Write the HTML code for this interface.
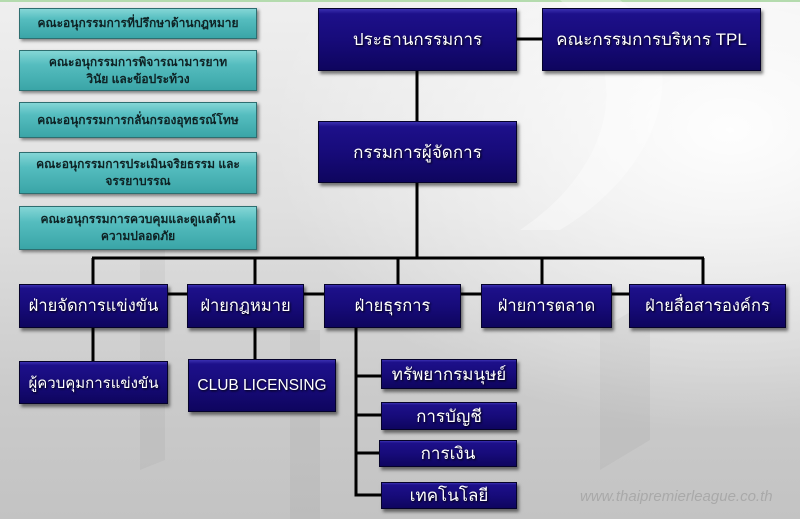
<!DOCTYPE html>
<html><head><meta charset="utf-8"><style>
html,body{margin:0;padding:0}
body{width:800px;height:519px;position:relative;overflow:hidden;
background:radial-gradient(ellipse 460px 300px at 730px 130px,rgba(255,255,255,0.95),rgba(255,255,255,0) 100%),linear-gradient(to bottom,#efefef 0%,#e0e0e0 40%,#cbcbcb 75%,#c3c3c3 100%);
font-family:"Liberation Sans","DejaVu Sans",sans-serif}
.top{position:absolute;left:0;top:0;width:800px;height:2px;background:#b4dbae}
.t{position:absolute;box-sizing:border-box;border:1px solid #2e6e70;
background:linear-gradient(to bottom,#84d6d6 0%,#55bdbf 35%,#3aa5a7 100%);
box-shadow:2px 2px 3px rgba(0,0,0,0.45);display:flex;align-items:center;justify-content:center;text-align:center;
font-size:12px;font-weight:bold;color:#0e2224;line-height:17px}
.n{position:absolute;box-sizing:border-box;border:1px solid #05022a;
background:linear-gradient(to bottom,#3a2fb0 0%,#1d108a 8%,#170b7a 50%,#0e055e 100%);
box-shadow:2px 3px 3px rgba(0,0,0,0.5);display:flex;align-items:center;justify-content:center;text-align:center;
color:#fff;font-size:16.5px;text-shadow:1px 1px 2px #000;white-space:nowrap}
svg{position:absolute;left:0;top:0}
.wm{position:absolute;left:580px;top:488px;font-size:15px;font-style:italic;color:#a9a9a9;white-space:nowrap}
</style></head><body>
<div class="top"></div>
<svg width="800" height="519">
<g fill="rgba(255,255,255,0.35)">
<path d="M560 0 L620 0 C700 60 660 170 560 230 L520 230 C610 170 640 70 560 0Z"/>
</g>
<g fill="rgba(0,0,0,0.035)">
<polygon points="140,250 165,250 165,460 140,470"/>
<polygon points="290,330 320,330 320,519 290,519"/>
<polygon points="600,330 650,300 650,440 600,470"/>
</g>
<g stroke="#000" stroke-width="3" fill="none">
<line x1="417" y1="71" x2="417" y2="121"/>
<line x1="417" y1="183" x2="417" y2="258"/>
<line x1="517" y1="39" x2="542" y2="39"/>
<line x1="92" y1="258" x2="704" y2="258"/>
<line x1="93" y1="258" x2="93" y2="284"/>
<line x1="255" y1="258" x2="255" y2="284"/>
<line x1="398" y1="258" x2="398" y2="284"/>
<line x1="542" y1="258" x2="542" y2="284"/>
<line x1="703" y1="258" x2="703" y2="284"/>
<line x1="168" y1="294" x2="187" y2="294"/>
<line x1="304" y1="294" x2="324" y2="294"/>
<line x1="461" y1="294" x2="481" y2="294"/>
<line x1="612" y1="294" x2="629" y2="294"/>
<line x1="93" y1="328" x2="93" y2="361"/>
<line x1="255" y1="328" x2="255" y2="359"/>
<line x1="356" y1="328" x2="356" y2="496"/>
<line x1="356" y1="376" x2="381" y2="376"/>
<line x1="356" y1="415" x2="381" y2="415"/>
<line x1="356" y1="453" x2="379" y2="453"/>
<line x1="354.5" y1="495" x2="381" y2="495"/>
</g>
</svg>

<div class="t" style="left:19px;top:8px;width:238px;height:31px">คณะอนุกรรมการที่ปรึกษาด้านกฎหมาย</div>
<div class="t" style="left:19px;top:50px;width:238px;height:41px">คณะอนุกรรมการพิจารณามารยาท<br>วินัย และข้อประท้วง</div>
<div class="t" style="left:19px;top:102px;width:238px;height:36px">คณะอนุกรรมการกลั่นกรองอุทธรณ์โทษ</div>
<div class="t" style="left:19px;top:152px;width:238px;height:42px">คณะอนุกรรมการประเมินจริยธรรม และ<br>จรรยาบรรณ</div>
<div class="t" style="left:19px;top:206px;width:238px;height:44px">คณะอนุกรรมการควบคุมและดูแลด้าน<br>ความปลอดภัย</div>

<div class="n" style="left:318px;top:8px;width:199px;height:63px;font-size:17px">ประธานกรรมการ</div>
<div class="n" style="left:542px;top:8px;width:219px;height:63px;font-size:17px">คณะกรรมการบริหาร TPL</div>
<div class="n" style="left:318px;top:121px;width:199px;height:62px;font-size:17px">กรรมการผู้จัดการ</div>

<div class="n" style="left:19px;top:284px;width:149px;height:44px">ฝ่ายจัดการแข่งขัน</div>
<div class="n" style="left:187px;top:284px;width:117px;height:44px">ฝ่ายกฎหมาย</div>
<div class="n" style="left:324px;top:284px;width:137px;height:44px">ฝ่ายธุรการ</div>
<div class="n" style="left:481px;top:284px;width:131px;height:44px">ฝ่ายการตลาด</div>
<div class="n" style="left:629px;top:284px;width:157px;height:44px">ฝ่ายสื่อสารองค์กร</div>

<div class="n" style="left:19px;top:361px;width:149px;height:43px;font-size:15px">ผู้ควบคุมการแข่งขัน</div>
<div class="n" style="left:188px;top:359px;width:148px;height:53px;font-size:15.5px">CLUB LICENSING</div>

<div class="n" style="left:381px;top:359px;width:136px;height:30px;font-size:17px">ทรัพยากรมนุษย์</div>
<div class="n" style="left:381px;top:402px;width:136px;height:28px;font-size:17px">การบัญชี</div>
<div class="n" style="left:379px;top:440px;width:138px;height:27px;font-size:17px">การเงิน</div>
<div class="n" style="left:381px;top:482px;width:136px;height:27px;font-size:17px">เทคโนโลยี</div>

<div class="wm">www.thaipremierleague.co.th</div>
</body></html>
